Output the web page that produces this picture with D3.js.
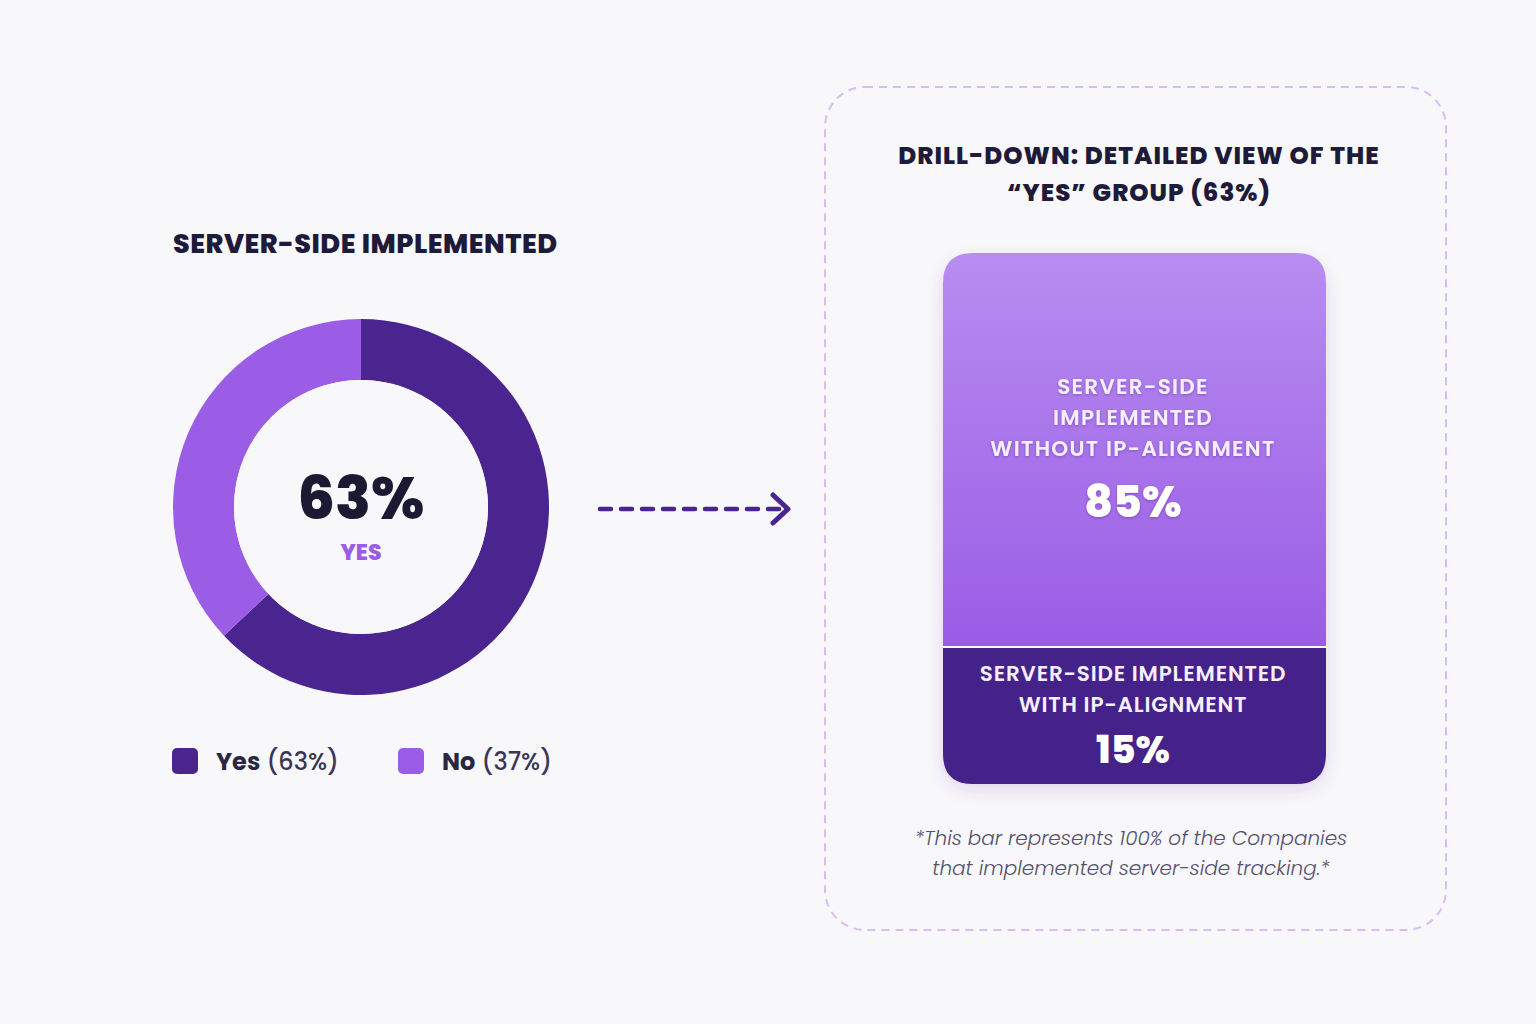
<!DOCTYPE html>
<html>
<head>
<meta charset="utf-8">
<script src="https://cdn.jsdelivr.net/npm/d3@7"></script>
<style>
  html, body { margin: 0; padding: 0; background: #f8f7fa; }
  svg { display: block; font-family: "Poppins", Inter, "Noto Sans", sans-serif; }
</style>
</head>
<body>
<svg id="drawing_region"></svg>
<script>
// donut data
const donutLabels = ['Yes', 'No'];
const donutValues = [63, 37];
const donutColors = ['#4a2590', '#9b5de5'];

// drill-down bar data (stacked, top first)
const barLabels = [
    ['SERVER-SIDE', 'IMPLEMENTED', 'WITHOUT IP-ALIGNMENT'],
    ['SERVER-SIDE IMPLEMENTED', 'WITH IP-ALIGNMENT']
];
const barValues = [85, 15];

const leftTitle = 'SERVER-SIDE IMPLEMENTED';
const rightTitle = ['DRILL-DOWN: DETAILED VIEW OF THE', '\u201CYES\u201D GROUP (63%)'];
const footnote = ['*This bar represents 100% of the Companies', 'that implemented server-side tracking.*'];

const width = 1536, height = 1024;
const svg = d3.select('#drawing_region')
    .attr('width', width)
    .attr('height', height);

const defs = svg.append('defs');

const grad = defs.append('linearGradient')
    .attr('id', 'topGrad')
    .attr('x1', 0).attr('y1', 0).attr('x2', 0).attr('y2', 1);
grad.append('stop').attr('offset', '0%').attr('stop-color', '#b88df0');
grad.append('stop').attr('offset', '100%').attr('stop-color', '#9a5ce6');

const shadow = defs.append('filter').attr('id', 'shadow')
    .attr('x', '-20%').attr('y', '-20%').attr('width', '140%').attr('height', '140%');
shadow.append('feDropShadow')
    .attr('dx', 0).attr('dy', 6).attr('stdDeviation', 8)
    .attr('flood-color', '#4a2590').attr('flood-opacity', 0.15);

const textShadow = defs.append('filter').attr('id', 'tshadow');
textShadow.append('feDropShadow')
    .attr('dx', 0).attr('dy', 1).attr('stdDeviation', 1.5)
    .attr('flood-color', '#3a1a70').attr('flood-opacity', 0.35);

// ---------- left: donut ----------
svg.append('text')
    .attr('x', 173).attr('y', 253)
    .attr('font-size', 27).attr('font-weight', 800)
    .attr('fill', '#1e1b3a')
    .attr('letter-spacing', 0.5)
    .text(leftTitle);

const cx = 361, cy = 507;
const donut = svg.append('g').attr('transform', `translate(${cx},${cy})`);

const pie = d3.pie().sort(null).value(d => d);
const arc = d3.arc().innerRadius(127).outerRadius(188);

donut.selectAll('path')
    .data(pie(donutValues))
    .join('path')
    .attr('d', arc)
    .attr('fill', (d, i) => donutColors[i]);

donut.append('circle').attr('r', 127).attr('fill', '#f8f7fa');

donut.append('text')
    .attr('y', 12)
    .attr('text-anchor', 'middle')
    .attr('font-size', 59).attr('font-weight', 800)
    .attr('fill', '#1c1a33')
    .text(donutValues[0] + '%');

donut.append('text')
    .attr('y', 53)
    .attr('text-anchor', 'middle')
    .attr('font-size', 22).attr('font-weight', 800)
    .attr('fill', '#9b5de5')
    .text(donutLabels[0].toUpperCase());

// legend
const legend = svg.append('g').attr('transform', 'translate(172,748)');
const legendX = d3.scalePoint().domain(donutLabels).range([0, 226]);
const item = legend.selectAll('g')
    .data(donutLabels)
    .join('g')
    .attr('transform', d => `translate(${legendX(d)},0)`);
item.append('rect')
    .attr('width', 26).attr('height', 26).attr('rx', 5)
    .attr('fill', (d, i) => donutColors[i]);
const lt = item.append('text')
    .attr('x', 44).attr('y', 22)
    .attr('font-size', 24)
    .attr('fill', '#2a2745');
lt.append('tspan').attr('font-weight', 700).text(d => d);
lt.append('tspan').attr('font-weight', 500).attr('fill', '#3a3655')
    .text((d, i) => ` (${donutValues[i]}%)`);

// ---------- arrow ----------
svg.append('line')
    .attr('x1', 600).attr('y1', 509).attr('x2', 784).attr('y2', 509)
    .attr('stroke', '#4a2590').attr('stroke-width', 4.5)
    .attr('stroke-linecap', 'round')
    .attr('stroke-dasharray', '11 10');
svg.append('path')
    .attr('d', 'M773,495 L788,509 L773,523')
    .attr('fill', 'none')
    .attr('stroke', '#4a2590').attr('stroke-width', 5)
    .attr('stroke-linecap', 'round').attr('stroke-linejoin', 'round');

// ---------- right: drill-down ----------
svg.append('rect')
    .attr('x', 825).attr('y', 87).attr('width', 621).attr('height', 843)
    .attr('rx', 40)
    .attr('fill', 'none')
    .attr('stroke', '#d9bdf2').attr('stroke-width', 2)
    .attr('stroke-dasharray', '8 6');

svg.append('g').selectAll('text')
    .data(rightTitle)
    .join('text')
    .attr('x', 1139).attr('y', (d, i) => 164 + i * 37)
    .attr('text-anchor', 'middle')
    .attr('font-size', 24.5).attr('font-weight', 800)
    .attr('letter-spacing', 1)
    .attr('fill', '#1e1b3a')
    .text(d => d);

const barX = 943, barW = 383, barTop = 253, barBottom = 784, gap = 2;
const totalH = barBottom - barTop - gap;
const y = d3.scaleLinear().domain([0, d3.sum(barValues)]).range([0, totalH]);
// keep the small segment tall enough for its label
const minSeg = 136;
const lowH = Math.max(y(barValues[1]), minSeg);
const highH = totalH - lowH;
const segs = [
    { y0: barTop, h: highH, fill: 'url(#topGrad)' },
    { y0: barTop + highH + gap, h: lowH, fill: '#45218a' }
];

const r = 30;
function segPath(s, i) {
    const x0 = barX, x1 = barX + barW, y0 = s.y0, y1 = s.y0 + s.h;
    if (i === 0) {
        return `M${x0},${y1} L${x0},${y0 + r} Q${x0},${y0} ${x0 + r},${y0} L${x1 - r},${y0} Q${x1},${y0} ${x1},${y0 + r} L${x1},${y1} Z`;
    }
    return `M${x0},${y0} L${x1},${y0} L${x1},${y1 - r} Q${x1},${y1} ${x1 - r},${y1} L${x0 + r},${y1} Q${x0},${y1} ${x0},${y1 - r} Z`;
}

const bar = svg.append('g');
bar.append('rect')
    .attr('x', barX).attr('y', barTop).attr('width', barW).attr('height', barBottom - barTop)
    .attr('rx', r).attr('fill', '#ffffff')
    .attr('filter', 'url(#shadow)');
bar.selectAll('path')
    .data(segs)
    .join('path')
    .attr('d', segPath)
    .attr('fill', d => d.fill);

const midX = barX + barW / 2 - 1.5;
// top segment labels
const topLabel = bar.append('g').attr('filter', 'url(#tshadow)');
topLabel.selectAll('text.lab')
    .data(barLabels[0])
    .join('text')
    .attr('class', 'lab')
    .attr('x', midX).attr('y', (d, i) => segs[0].y0 + 141 + i * 31)
    .attr('text-anchor', 'middle')
    .attr('font-size', 21.5).attr('font-weight', 600)
    .attr('letter-spacing', 1.3)
    .attr('fill', '#f6efff')
    .text(d => d);
topLabel.append('text')
    .attr('x', midX).attr('y', segs[0].y0 + 264)
    .attr('text-anchor', 'middle')
    .attr('font-size', 44).attr('font-weight', 800)
    .attr('fill', '#ffffff')
    .text(barValues[0] + '%');

const lowLabel = bar.append('g');
lowLabel.selectAll('text.lab')
    .data(barLabels[1])
    .join('text')
    .attr('class', 'lab')
    .attr('x', midX).attr('y', (d, i) => segs[1].y0 + 33 + i * 31)
    .attr('text-anchor', 'middle')
    .attr('font-size', 21.5).attr('font-weight', 600)
    .attr('letter-spacing', 0.8)
    .attr('fill', '#f6efff')
    .text(d => d);
lowLabel.append('text')
    .attr('x', midX).attr('y', segs[1].y0 + 115)
    .attr('text-anchor', 'middle')
    .attr('font-size', 38).attr('font-weight', 800)
    .attr('fill', '#ffffff')
    .text(barValues[1] + '%');

svg.append('g').selectAll('text')
    .data(footnote)
    .join('text')
    .attr('x', 1131).attr('y', (d, i) => 845 + i * 30)
    .attr('text-anchor', 'middle')
    .attr('font-size', 20).attr('font-style', 'italic').attr('font-weight', 300)
    .attr('fill', '#55506e')
    .text(d => d);
</script>
</body>
</html>
